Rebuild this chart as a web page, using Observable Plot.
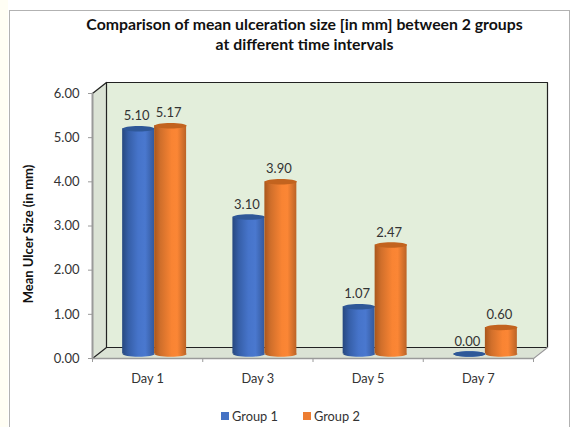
<!DOCTYPE html>
<html>
<head>
<meta charset="utf-8">
<script src="https://cdn.jsdelivr.net/npm/d3@7"></script>
<script src="https://cdn.jsdelivr.net/npm/@observablehq/plot@0.6"></script>
<style>
  html, body { margin: 0; padding: 0; background: #fff; }
  #page { position: relative; width: 571px; height: 427px; overflow: hidden; font-family: Lato, sans-serif; color: #333; }
  #strip { position: absolute; left: 0; top: 0; width: 8px; height: 427px; background: #fffef4; }
  #frame { position: absolute; left: 9px; top: 10px; width: 561px; height: 430px; border: 1px solid #b2b2b2; box-sizing: border-box; }
  #title { position: relative; box-sizing: border-box; height: 70px; padding: 14px 0 0 38px; text-align: center; font-weight: 700; font-size: 15.8px; line-height: 20px; color: #111; white-space: nowrap; }
  #chart { position: relative; height: 320px; }
  #chart svg { display: block; }
  #legend { position: absolute; left: 221px; top: 409px; display: flex; align-items: center; font-size: 12.8px; line-height: 14px; color: #333; }
  #legend i { display: inline-block; width: 8px; height: 8px; margin-right: 3px; }
  #legend span { margin-right: 25px; display: flex; align-items: center; }
</style>
</head>
<body>
<div id="page">
  <div id="strip"></div>
  <div id="frame"></div>
  <div id="title"></div>
  <div id="chart"></div>
  <div id="legend"></div>
</div>
<script>
const titleLines = ["Comparison of mean ulceration size [in mm] between 2 groups", "at different time intervals"];
const yLabel = "Mean Ulcer Size (in mm)";
const days = ["Day 1", "Day 3", "Day 5", "Day 7"];
const groupNames = ["Group 1", "Group 2"];
const group1 = [5.10, 3.10, 1.07, 0.00];
const group2 = [5.17, 3.90, 2.47, 0.60];
const yTicks = [0, 1, 2, 3, 4, 5, 6];

// Chart-box depth of the 3D walls, in data units of each scale
const depthX = 0.127, depthY = 0.249;
const barWidth = 0.29;
const xMax = days.length, yMax = 6;

const series = [
  {name: groupNames[0], values: group1, from: -barWidth, to: 0, body: "url(#gBlue)", cap: "#2f5898", swatch: "#4472c4"},
  {name: groupNames[1], values: group2, from: 0, to: barWidth, body: "url(#gOrange)", cap: "#c2631f", swatch: "#ed7d31"}
];

const rows = s => days.map((day, i) => ({day, value: s.values[i], x1: i + 0.5 + s.from, x2: i + 0.5 + s.to, xc: i + 0.5 + (s.from + s.to) / 2}));

// Elliptical dot symbol, used for the cylinder ends
const ellipse = {
  draw(ctx, size) {
    const rx = Math.sqrt(size / Math.PI), ry = rx * 0.17, k = 0.5523;
    ctx.moveTo(-rx, 0);
    ctx.bezierCurveTo(-rx, -ry * k, -rx * k, -ry, 0, -ry);
    ctx.bezierCurveTo(rx * k, -ry, rx, -ry * k, rx, 0);
    ctx.bezierCurveTo(rx, ry * k, rx * k, ry, 0, ry);
    ctx.bezierCurveTo(-rx * k, ry, -rx, ry * k, -rx, 0);
    ctx.closePath();
  }
};

function gradient(defs, id, stops) {
  const g = defs.append("linearGradient").attr("id", id).attr("x1", 0).attr("x2", 1).attr("y1", 0).attr("y2", 0);
  stops.forEach(([o, c]) => g.append("stop").attr("offset", o).attr("stop-color", c));
}
const defsMark = () => {
  const defs = d3.create("svg:defs");
  gradient(defs, "gBlue", [[0, "#27487f"], [0.2, "#365fa8"], [0.5, "#4674ca"], [0.72, "#4a78cf"], [1, "#34599c"]]);
  gradient(defs, "gOrange", [[0, "#a9561c"], [0.2, "#d06f2b"], [0.55, "#f98433"], [0.72, "#fb8635"], [1, "#bb6326"]]);
  return defs.node();
};

const wallFill = "#e3eedb", sideFill = "#dbe3d5", grey = "#9a9a9a", dark = "#222";

const barMarks = series.flatMap(s => {
  const d = rows(s);
  const shift = {dx: 7, dy: -4.5};
  return [
    Plot.dot(d, {x: "xc", y: () => 0, r: 16, symbol: ellipse, fill: s.body, stroke: "none", ...shift}),
    Plot.rect(d.filter(r => r.value > 0), {x1: "x1", x2: "x2", y1: () => 0, y2: "value", fill: s.body, ...shift}),
    Plot.dot(d, {x: "xc", y: "value", r: 16, symbol: ellipse, fill: s.cap, stroke: "none", ...shift})
  ];
});

const labelMarks = series.map(s => Plot.text(rows(s), {
  x: "xc", y: "value", text: r => r.value.toFixed(2), dx: 5, dy: -17, fontSize: 13, fill: "#333"
}));

const plot = Plot.plot({
  width: 571, height: 320,
  marginLeft: 92, marginRight: 38, marginTop: 23, marginBottom: 32,
  style: {fontFamily: "Lato, sans-serif", fontSize: "13px", color: "#333", background: "transparent"},
  x: {type: "linear", domain: [0, xMax], axis: null},
  y: {type: "linear", domain: [0, yMax], axis: null},
  marks: [
    defsMark,
    // back wall
    Plot.rect([0], {x1: depthX, x2: xMax + depthX, y1: depthY, y2: yMax + depthY, fill: wallFill}),
    // left wall
    Plot.area([0, 1], {x1: d => d * depthX, x2: d => d * depthX, y1: d => d * depthY, y2: d => yMax + d * depthY, fill: sideFill}),
    // floor
    Plot.area([0, 1], {x1: d => d * depthX, x2: d => xMax + d * depthX, y1: d => d * depthY, y2: d => d * depthY, fill: sideFill}),
    // edges
    Plot.line([[depthX, depthY], [depthX, yMax + depthY], [xMax + depthX, yMax + depthY], [xMax + depthX, depthY], [depthX, depthY]], {stroke: dark, strokeWidth: 1.2}),
    Plot.line([[0, yMax], [depthX, yMax + depthY]], {stroke: dark, strokeWidth: 1.2}),
    Plot.line([[0, 0], [depthX, depthY]], {stroke: dark, strokeWidth: 1.2}),
    Plot.line([[xMax, 0], [xMax + depthX, depthY]], {stroke: grey, strokeWidth: 1.2}),
    Plot.line([[0, 0], [0, yMax]], {stroke: grey, strokeWidth: 2}),
    Plot.line([[0, 0], [xMax, 0]], {stroke: grey, strokeWidth: 1.5}),
    // axes
    Plot.axisY({ticks: yTicks, tickFormat: d => d.toFixed(2), tickSize: 4, tickPadding: 9, stroke: grey, label: null, fontSize: 13, fill: "#333"}),
    Plot.axisX({ticks: d3.range(xMax + 1), tickFormat: () => "", tickSize: 4, stroke: grey, label: null}),
    Plot.text(days, {x: (d, i) => i + 0.5, y: () => 0, text: d => d, dy: 20, fontSize: 12.8, fill: "#333"}),
    Plot.text([yLabel], {frameAnchor: "left", textAnchor: "middle", rotate: -90, dx: -64, dy: 8, fontWeight: 700, fontSize: 13, fill: "#111"}),
    ...barMarks,
    ...labelMarks
  ]
});
document.getElementById("chart").appendChild(plot);

document.getElementById("title").innerHTML = titleLines.join("<br>");
const legend = document.getElementById("legend");
series.forEach(s => {
  const item = document.createElement("span");
  const sw = document.createElement("i");
  sw.style.background = s.swatch;
  item.appendChild(sw);
  item.appendChild(document.createTextNode(s.name));
  legend.appendChild(item);
});
</script>
</body>
</html>
